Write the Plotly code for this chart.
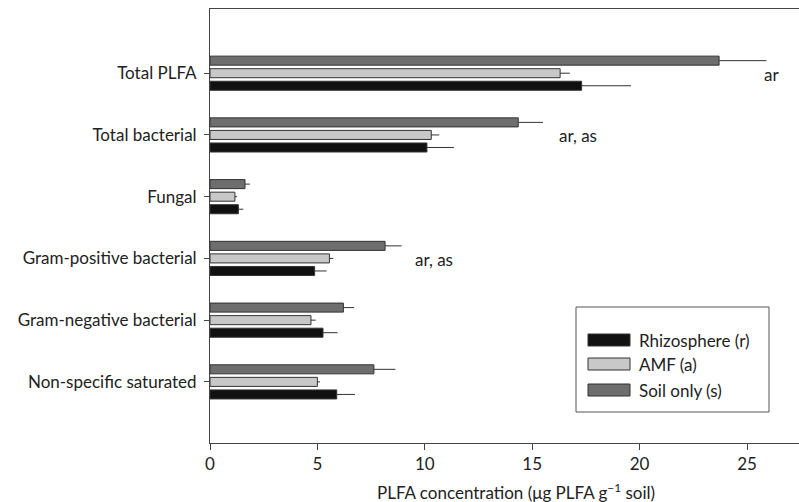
import plotly.graph_objects as go

categories = ["Total PLFA", "Total bacterial", "Fungal", "Gram-positive bacterial",
              "Gram-negative bacterial", "Non-specific saturated"]
rhizo = [17.3, 10.1, 1.32, 4.87, 5.26, 5.9]
rhizo_err = [2.3, 1.25, 0.23, 0.56, 0.68, 0.85]
amf = [16.3, 10.3, 1.16, 5.56, 4.70, 5.0]
amf_err = [0.45, 0.37, 0.1, 0.18, 0.22, 0.12]
soil = [23.7, 14.35, 1.63, 8.15, 6.21, 7.63]
soil_err = [2.2, 1.15, 0.23, 0.77, 0.5, 1.0]
series_names = ["Rhizosphere (r)", "AMF (a)", "Soil only (s)"]
colors = ["#111111", "#c8c8c8", "#6e6e6e"]
sig_labels = ["ar", "ar, as", "ar, as"]
sig_cats = ["Total PLFA", "Total bacterial", "Gram-positive bacterial"]
sig_x = [25.7, 16.15, 9.45]
x_ticks = [0, 5, 10, 15, 20, 25]

FONT = "Lato, 'Open Sans', sans-serif"
FS = 17
TXT = "#222222"

# plot area in pixels (for converting legend layout to paper coordinates)
L, R, T, B = 210, 799, 9, 443
def px(xp):
    return (xp - L) / (R - L)
def py(yp):
    return (B - yp) / (B - T)

fig = go.Figure()
for name, vals, errs, col in zip(series_names, [rhizo, amf, soil],
                                 [rhizo_err, amf_err, soil_err], colors):
    fig.add_trace(go.Bar(
        name=name, y=categories, x=vals, orientation="h",
        marker=dict(color=col, line=dict(color="#333333", width=1)),
        error_x=dict(type="data", array=errs, arrayminus=[0] * len(errs), symmetric=False,
                     color="#333333", thickness=1, width=0),
        showlegend=False,
    ))

for lab, cat, xv in zip(sig_labels, sig_cats, sig_x):
    fig.add_annotation(x=xv, y=cat, text=lab, showarrow=False, xanchor="left",
                       yanchor="middle", yshift=-1, font=dict(size=FS, color=TXT, family=FONT))

fig.add_annotation(xref="paper", yref="paper", x=px(516), y=py(492), yanchor="middle",
                   text="PLFA concentration (μg PLFA g<sup>−1</sup> soil)", showarrow=False,
                   font=dict(size=FS, color=TXT, family=FONT))

# custom legend (box, wide swatches, labels)
shapes = [dict(type="rect", xref="paper", yref="paper", x0=px(576), x1=px(769),
               y0=py(412), y1=py(307), line=dict(color="#555555", width=1),
               fillcolor="white", layer="above")]
item_y = [340, 364, 390]
for name, col, yc in zip(series_names, colors, item_y):
    shapes.append(dict(type="rect", xref="paper", yref="paper", x0=px(588), x1=px(630),
                       y0=py(yc + 6), y1=py(yc - 6), line=dict(color="#333333", width=1),
                       fillcolor=col, layer="above"))
    fig.add_annotation(xref="paper", yref="paper", x=px(637), y=py(yc), text=name,
                       showarrow=False, xanchor="left", yanchor="middle",
                       font=dict(size=FS, color=TXT, family=FONT))

fig.update_layout(
    width=799, height=502,
    margin=dict(l=L, r=0, t=T, b=502 - B),
    paper_bgcolor="white", plot_bgcolor="white",
    barmode="group", bargap=0.39, bargroupgap=0.28,
    font=dict(family=FONT, size=FS, color=TXT),
    showlegend=False,
    shapes=shapes,
    xaxis=dict(range=[0, 27.42], tickvals=x_ticks, showgrid=False, zeroline=False,
               showline=True, linecolor="#444", linewidth=1, mirror=True,
               ticks="outside", ticklen=6, tickcolor="#444",
               tickfont=dict(size=FS, family=FONT, color=TXT)),
    yaxis=dict(categoryorder="array", categoryarray=categories[::-1],
               range=[-0.99, 6.04], showgrid=False, zeroline=False,
               showline=True, linecolor="#444", linewidth=1,
               ticks="outside", ticklen=5, tickcolor="#444", ticklabelstandoff=4,
               tickfont=dict(size=FS, family=FONT, color=TXT)),
)

fig.write_html("out.html")
